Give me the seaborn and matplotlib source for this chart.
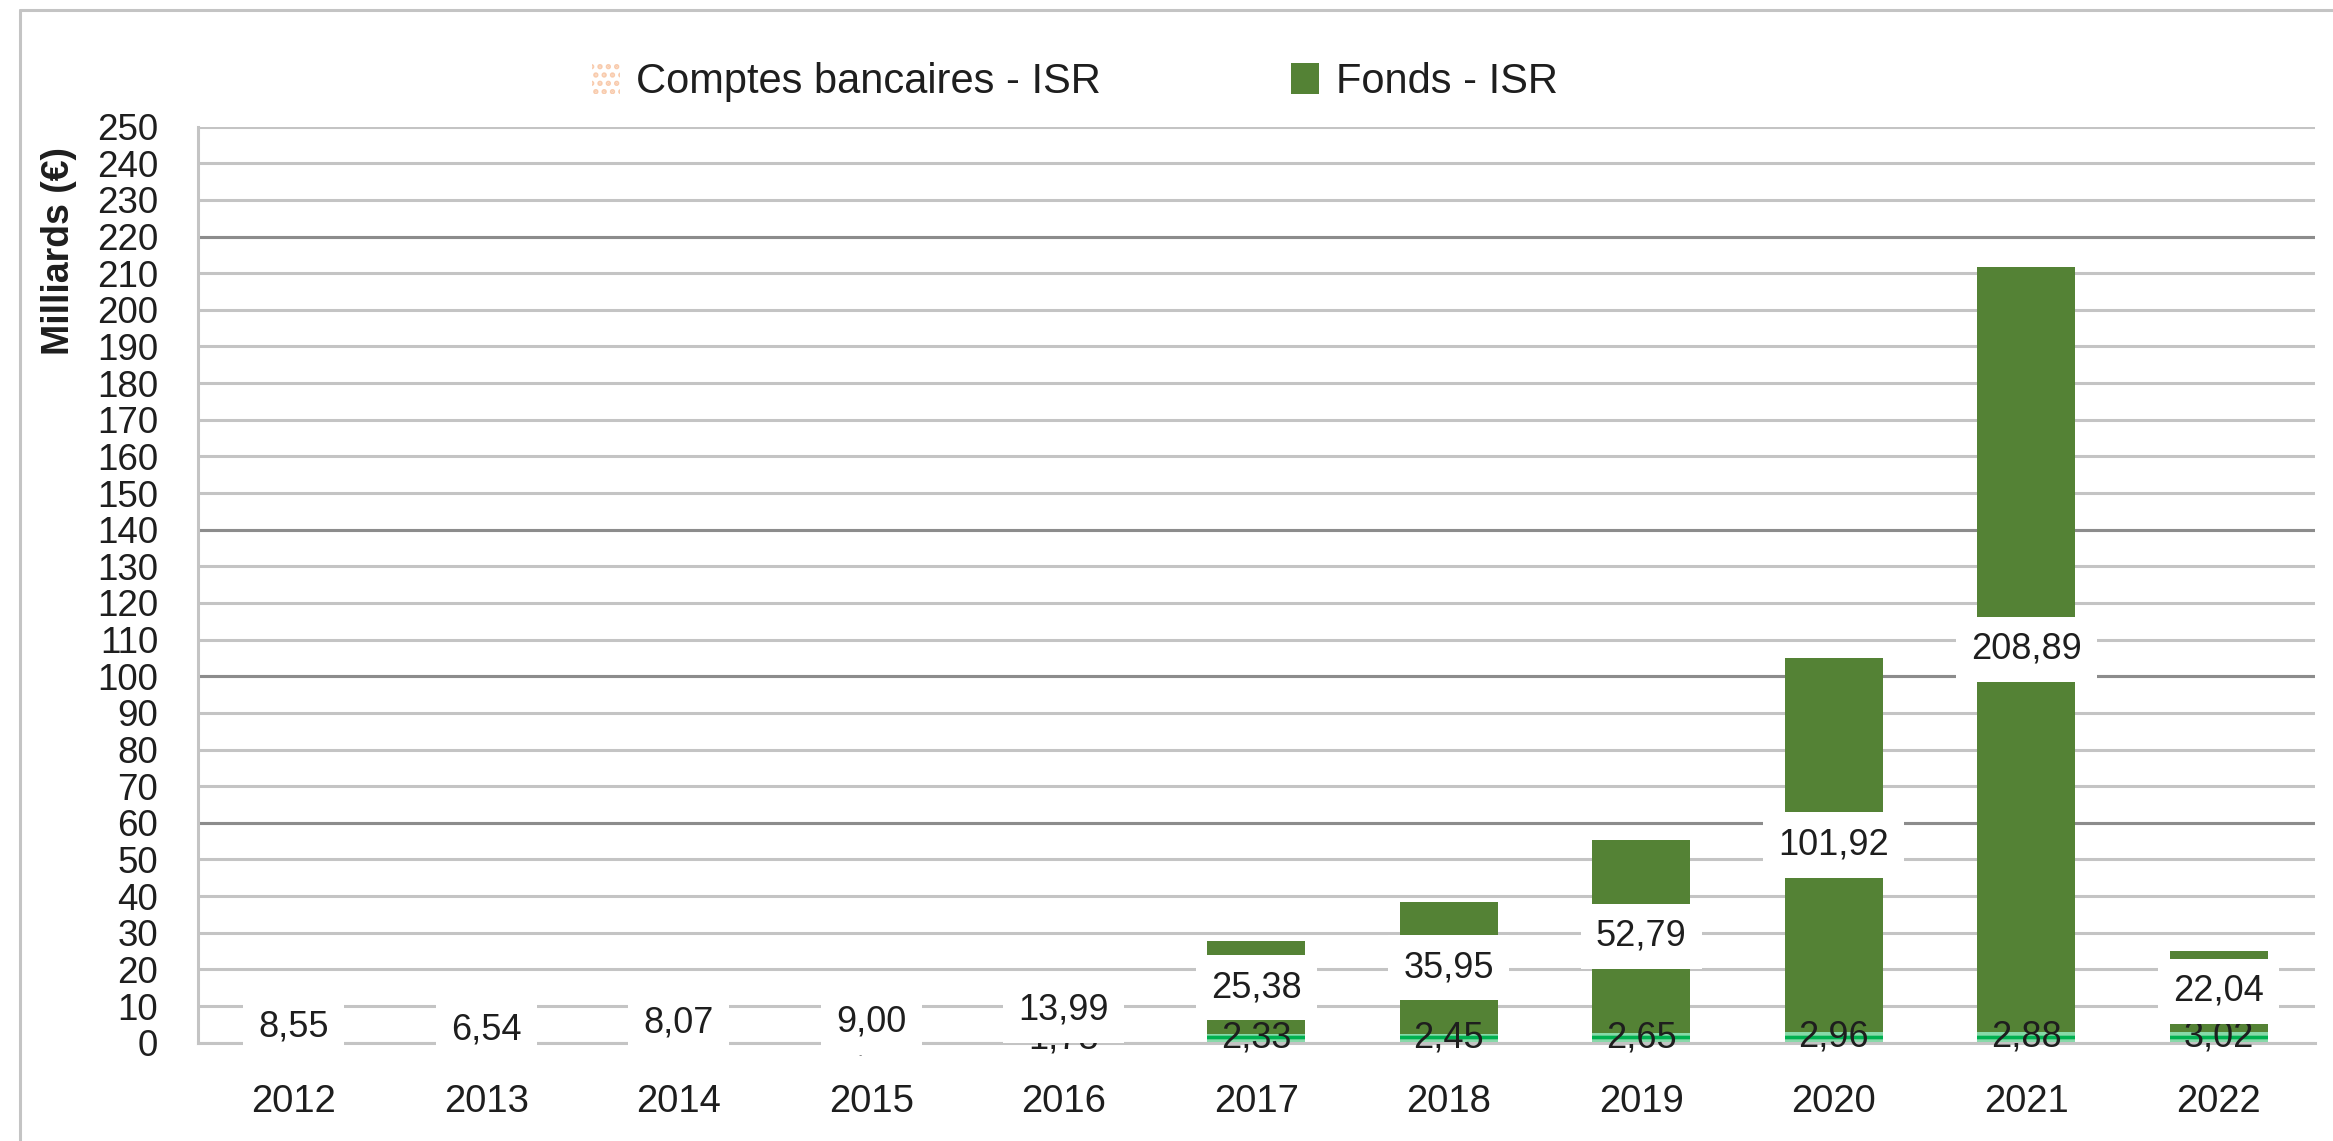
import matplotlib
matplotlib.use("Agg")
import matplotlib.pyplot as plt
from matplotlib.patches import Patch
from matplotlib.lines import Line2D
import numpy as np
import pandas as pd
import seaborn as sns

# =========================
# Data
# =========================
annees = ["2012", "2013", "2014", "2015", "2016", "2017", "2018", "2019", "2020", "2021", "2022"]
comptes_isr = [0.12, 0.15, 1.29, 1.12, 1.78, 2.33, 2.45, 2.65, 2.96, 2.88, 3.02]
fonds_isr = [8.55, 6.54, 8.07, 9.00, 13.99, 25.38, 35.95, 52.79, 101.92, 208.89, 22.04]
y_ticks = list(range(0, 251, 10))

df = pd.DataFrame({"annee": annees, "comptes": comptes_isr, "fonds": fonds_isr})
df["total"] = df["comptes"] + df["fonds"]

def fr(v):
    return f"{v:.2f}".replace(".", ",")

# =========================
# Style
# =========================
sns.set_theme(style="white")
plt.rcParams["font.family"] = ["Liberation Sans", "DejaVu Sans"]
plt.rcParams["hatch.linewidth"] = 2.6

grid_grey = "#C4C4C4"
dark_grey = "#8C8C8C"
fonds_green = "#548235"
comptes_light = "#86D9A8"
comptes_dark = "#00B050"
txt = "#1E1E1E"

fig = plt.figure(figsize=(23.33, 11.41), dpi=100)
ax = fig.add_axes([0.0847, 0.0862, 0.9076, 0.8028])

# =========================
# Bars: total (fonds on top of comptes) then comptes at the bottom
# =========================
sns.barplot(data=df, x="annee", y="total", color=fonds_green, saturation=1,
            width=0.51, linewidth=0, errorbar=None, ax=ax)
sns.barplot(data=df, x="annee", y="comptes", color=comptes_light, saturation=1,
            width=0.51, linewidth=0, edgecolor=comptes_dark, hatch="--",
            errorbar=None, ax=ax)

# data labels (the tiny 2012-2013 comptes labels are hidden in the original)
for i, row in df.iterrows():
    if row["comptes"] < 0.5:
        continue
    ax.text(i, row["comptes"] / 2, fr(row["comptes"]), ha="center", va="center",
            fontsize=26, color=txt, zorder=4)
for i, row in df.iterrows():
    ax.text(i, row["comptes"] + row["fonds"] / 2, fr(row["fonds"]), ha="center",
            va="center", fontsize=26, color=txt, zorder=5,
            bbox=dict(boxstyle="square,pad=0.42", facecolor="white", edgecolor="none"))

# =========================
# Axes
# =========================
ax.set_xlim(-0.5, len(annees) - 0.5)
ax.set_ylim(0, 250)
ax.set_yticks(y_ticks)
ax.set_axisbelow(True)
ax.yaxis.grid(True, color=grid_grey, linewidth=2.2)
# a few gridlines render darker in the original
for v in [60, 100, 140, 220]:
    ax.axhline(v, color=dark_grey, linewidth=2.2, zorder=0.6)

ax.set_xlabel("")
ax.set_ylabel("Milliards (€)", fontsize=27, fontweight="bold", color=txt)
ax.yaxis.set_label_coords(-0.057, 0.864)

ax.set_xticks(range(len(annees)))
ax.set_xticklabels(annees)
ax.set_xticks(np.arange(-0.5, len(annees)), minor=True)
ax.tick_params(axis="x", which="major", length=0, labelsize=27.5, labelcolor=txt, pad=30)
ax.tick_params(axis="x", which="minor", length=12, width=2.2, color=grid_grey, direction="out")
ax.tick_params(axis="y", which="major", length=11.5, width=2.2, color=grid_grey,
               direction="out", labelsize=26.5, labelcolor=txt, pad=17)

for side in ["top", "right"]:
    ax.spines[side].set_visible(False)
ax.spines["left"].set_color(grid_grey)
ax.spines["left"].set_linewidth(2.2)
ax.spines["bottom"].set_color(grid_grey)
ax.spines["bottom"].set_linewidth(2.2)

# =========================
# Legend
# =========================
handles = [
    Patch(facecolor="white", edgecolor="#F8CBAD", hatch="..", linewidth=0,
          label="Comptes bancaires - ISR"),
    Patch(facecolor=fonds_green, edgecolor="none", label="Fonds - ISR"),
]
fig.legend(handles=handles, loc="center left", bbox_to_anchor=(0.2537, 0.928),
           ncol=2, frameon=False, fontsize=30, handlelength=0.67, handleheight=0.75,
           handletextpad=0.4, columnspacing=4.55, borderpad=0, borderaxespad=0,
           labelcolor=txt)

# outer chart frame (left and top edges visible)
fig.add_artist(Line2D([0.0086, 0.0086], [0, 0.9912], color=grid_grey, linewidth=2.2))
fig.add_artist(Line2D([0.0086, 1.0], [0.9912, 0.9912], color=grid_grey, linewidth=2.2))

fig.savefig("out.png", dpi=100)
